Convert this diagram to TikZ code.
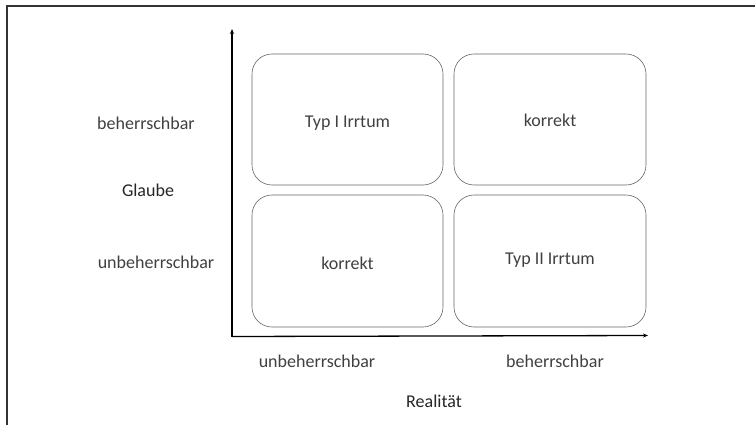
\documentclass[tikz,border=0pt]{standalone}
\usepackage{fontspec}
\setmainfont{Carlito}
\usetikzlibrary{arrows.meta}
\definecolor{txt}{HTML}{404040}
\tikzset{
  cell/.style={draw=black!60, line width=0.6pt, rounded corners=20pt},
  lbl/.style={text=txt, font=\fontsize{18}{21}\selectfont, inner sep=0pt},
  ttl/.style={text=black!85, font=\fontsize{18}{21}\selectfont, inner sep=0pt},
  axis/.style={line width=1.3pt, -{Stealth[length=5pt,width=4pt]}}
}
\begin{document}
\begin{tikzpicture}[x=1pt,y=-1pt]
\useasboundingbox (0,0) rectangle (755,425);
\draw[line width=1.5pt, black!80] (7,430) -- (7,6) -- (760,6);
% boxes
\draw[cell] (252,54) rectangle (443,185);
\draw[cell] (454,54) rectangle (646,185);
\draw[cell] (252,195) rectangle (443,327);
\draw[cell] (454,195) rectangle (646,327);
\node[lbl] (b1) at (347.5,123) {Typ I Irrtum};
\node[lbl] (b2) at (550,120) {korrekt};
\node[lbl] (b3) at (347.5,263) {korrekt};
\node[lbl] (b4) at (550,260) {Typ II Irrtum};
% axes
\coordinate (o) at (232,336.5);
\coordinate (yt) at (232,29);
\coordinate (xt) at (648,335.5);
\draw[axis] (o) -- (yt);
\draw[axis] (o) -- (xt);
% labels
\node[lbl] (yl1) at (146,123) {beherrschbar};
\node[ttl] (yt1) at (148,190) {Glaube};
\node[lbl] (yl2) at (156,262) {unbeherrschbar};
\node[lbl] (xl1) at (317,361) {unbeherrschbar};
\node[lbl] (xl2) at (555,361) {beherrschbar};
\node[ttl] (xt1) at (434,401) {Realität};
\end{tikzpicture}
\end{document}
